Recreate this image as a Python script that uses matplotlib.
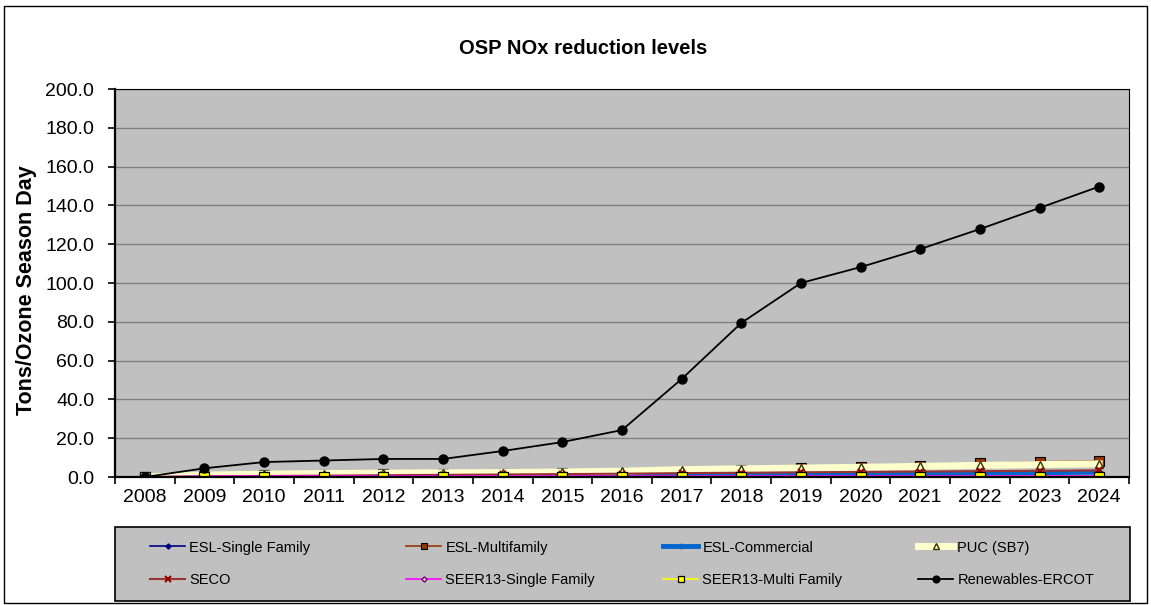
import matplotlib
matplotlib.use("Agg")
import matplotlib.pyplot as plt
import matplotlib.patches as patches

plt.rcParams['font.family'] = ['Liberation Sans', 'DejaVu Sans']

# data
years = [str(y) for y in range(2008, 2025)]
esl_single = [0, 0.1, 0.2, 0.3, 0.4, 0.5, 0.6, 0.7, 0.8, 1.0, 1.2, 1.4, 1.6, 1.8, 2.0, 2.2, 2.4]
esl_multi = [0, 0.5, 1.0, 1.2, 1.4, 1.6, 1.8, 2.0, 2.2, 2.8, 3.5, 4.6, 5.2, 5.8, 7.0, 7.8, 8.3]
esl_comm = [0, 0.1, 0.2, 0.3, 0.4, 0.5, 0.6, 0.7, 0.8, 1.0, 1.2, 1.4, 1.6, 1.8, 2.0, 2.2, 2.5]
puc_sb7 = [0, 1.0, 1.5, 1.8, 2.0, 2.2, 2.3, 2.6, 3.0, 3.8, 4.2, 4.6, 5.0, 5.5, 6.0, 6.4, 6.8]
seco = [0, 0.3, 0.5, 0.7, 0.9, 1.1, 1.3, 1.5, 1.7, 2.0, 2.2, 2.4, 2.6, 2.8, 3.0, 3.2, 3.4]
seer_single = [0, 0.4, 0.5, 0.5, 0.5, 0.5, 0.5, 0.5, 0.5, 0.5, 0.5, 0.5, 0.5, 0.5, 0.5, 0.5, 0.5]
seer_multi = [0, 0.1, 0.1, 0.1, 0.1, 0.1, 0.1, 0.1, 0.1, 0.1, 0.1, 0.1, 0.1, 0.1, 0.1, 0.1, 0.1]
renewables = [0, 4.5, 7.7, 8.5, 9.3, 9.3, 13.4, 18.0, 24.2, 50.5, 79.4, 100.0, 108.2, 117.5, 127.8, 138.7, 149.7]

yticks = [0, 20, 40, 60, 80, 100, 120, 140, 160, 180, 200]

W, H = 1151, 605


def fx(px):
    return px / W


def fy(py):
    return 1 - py / H


def make_chart():
    fig = plt.figure(figsize=(W / 100, H / 100), dpi=100)
    # outer chart border
    fig.patches.append(patches.Rectangle((fx(4), fy(603)), fx(1143), 597 / H,
                                         transform=fig.transFigure, fill=False,
                                         edgecolor='black', linewidth=1.0))

    ax = fig.add_axes([fx(115), fy(477), fx(1014), 388 / H])
    ax.set_facecolor('#C0C0C0')
    x = list(range(len(years)))

    lines = []
    lines += ax.plot(x, esl_single, color='#000080', lw=1.2, marker='D', ms=3.5,
                     mfc='#000080', mec='#000080', label='ESL-Single Family')
    lines += ax.plot(x, esl_multi, color='#993300', lw=1.2, marker='s', ms=6.5,
                     mfc='#993300', mec='black', mew=0.8, label='ESL-Multifamily')
    lines += ax.plot(x, esl_comm, color='#0066CC', lw=3.5, marker='+', ms=6,
                     mec='#0066CC', label='ESL-Commercial')
    lines += ax.plot(x, puc_sb7, color='#FFFFCC', lw=5, marker='^', ms=6,
                     mfc='#FFFFCC', mec='#333300', mew=1.0, label='PUC (SB7)')
    lines += ax.plot(x, seco, color='#993333', lw=1.5, marker='x', ms=5,
                     mec='#990000', mew=1.5, label='SECO')
    lines += ax.plot(x, seer_single, color='#FF00FF', lw=1.2, marker='D', ms=3.5,
                     mfc='white', mec='#660066', label='SEER13-Single Family')
    lines += ax.plot(x, seer_multi, color='#FFFF00', lw=1.2, marker='s', ms=6.5,
                     mfc='#FFFF00', mec='black', mew=0.9, label='SEER13-Multi Family')
    lines += ax.plot(x, renewables, color='black', lw=1.3, marker='o', ms=6.5,
                     mfc='black', mec='black', label='Renewables-ERCOT')

    ax.set_xlim(-0.5, len(years) - 0.5)
    ax.set_ylim(0, 200)
    ax.set_yticks(yticks)
    ax.set_yticklabels(['%.1f' % v for v in yticks], fontsize=14)
    ax.yaxis.grid(True, color='#808080', lw=1.0)
    ax.set_axisbelow(True)
    ax.set_xticks(x)
    ax.set_xticklabels(years, fontsize=14)
    ax.tick_params(axis='x', length=0, pad=9)
    ax.set_xticks([i - 0.5 for i in range(len(years) + 1)], minor=True)
    ax.tick_params(axis='x', which='minor', length=5, width=1.2, direction='out')
    ax.tick_params(axis='y', length=5, width=1.2, direction='out', pad=10)
    for s in ['left', 'bottom']:
        ax.spines[s].set_linewidth(1.6)
    ax.spines['top'].set_linewidth(0.8)
    ax.spines['right'].set_linewidth(0.8)

    fig.text(fx(27), fy(290), 'Tons/Ozone Season Day', rotation=90, ha='center', va='center',
             fontsize=15.5, fontweight='bold')
    fig.text(fx(583), fy(48), 'OSP NOx reduction levels', ha='center', va='center',
             fontsize=14.5, fontweight='bold')

    # legend box, drawn as 4 columns of 2 entries (row-major like the original)
    fig.patches.append(patches.Rectangle((fx(115), fy(601)), fx(1015), 74 / H,
                                         transform=fig.transFigure, facecolor='#C0C0C0',
                                         edgecolor='black', linewidth=1.2, zorder=1))
    col_x = [150, 406, 663, 918]
    for i, cx in enumerate(col_x):
        pair = [lines[i], lines[i + 4]]
        fig.legend(handles=pair, labels=[l.get_label() for l in pair],
                   loc='center left', bbox_to_anchor=(fx(cx), fy(564)),
                   frameon=False, fontsize=10.5, handlelength=2.4, handletextpad=0.3,
                   labelspacing=1.3, borderpad=0, borderaxespad=0, markerscale=0.75)

    fig.savefig('out.png', dpi=100)


if __name__ == '__main__':
    make_chart()
